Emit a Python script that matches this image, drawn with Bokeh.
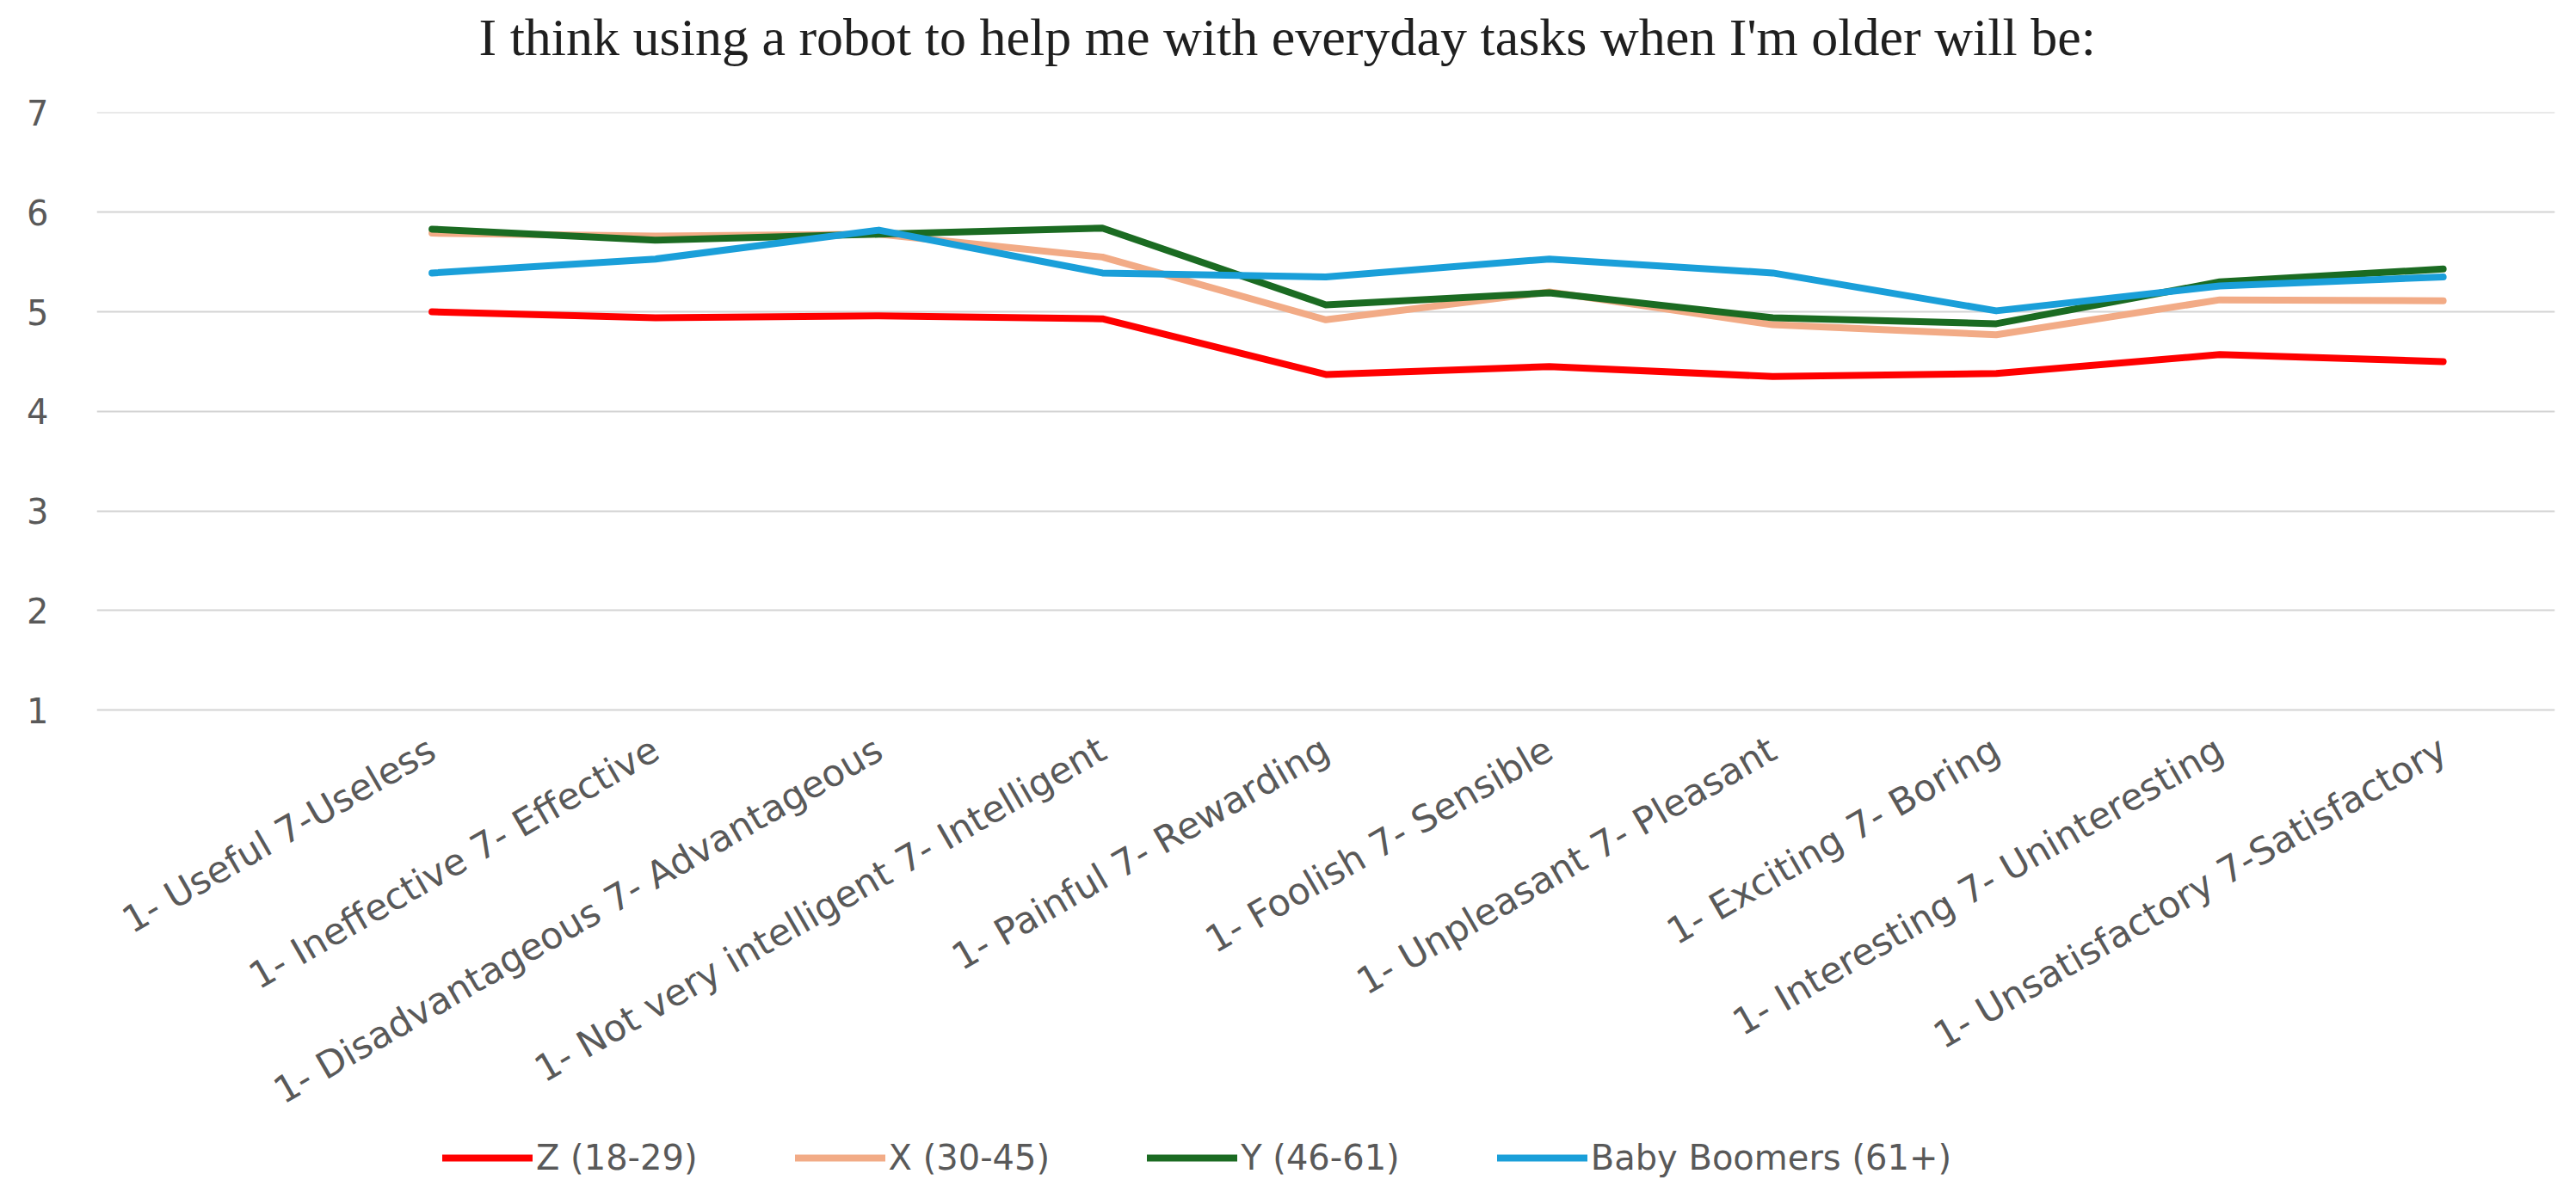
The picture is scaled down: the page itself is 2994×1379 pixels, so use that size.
import math
from bokeh.plotting import figure
from bokeh.models import FixedTicker, Range1d, Legend, LegendItem, Title
from bokeh.embed import file_html
from bokeh.resources import INLINE

categories = [
    "1- Useful 7-Useless",
    "1- Ineffective 7- Effective",
    "1- Disadvantageous 7- Advantageous",
    "1- Not very intelligent 7- Intelligent",
    "1- Painful 7- Rewarding",
    "1- Foolish 7- Sensible",
    "1- Unpleasant 7- Pleasant",
    "1- Exciting 7- Boring",
    "1- Interesting 7- Uninteresting",
    "1- Unsatisfactory 7-Satisfactory",
]
gen_z = [5.00, 4.94, 4.96, 4.93, 4.37, 4.45, 4.35, 4.38, 4.57, 4.50]
gen_x = [5.79, 5.76, 5.78, 5.55, 4.92, 5.20, 4.87, 4.77, 5.12, 5.11]
gen_y = [5.83, 5.72, 5.78, 5.84, 5.07, 5.19, 4.94, 4.88, 5.30, 5.43]
boomers = [5.39, 5.53, 5.82, 5.39, 5.35, 5.53, 5.39, 5.01, 5.26, 5.35]

series_names = ["Z (18-29)", "X (30-45)", "Y (46-61)", "Baby Boomers (61+)"]
series_values = [gen_z, gen_x, gen_y, boomers]
series_colors = ["#FF0000", "#F2AB86", "#1B6B22", "#1A9FD9"]
y_ticks = [1, 2, 3, 4, 5, 6, 7]
title_text = "I think using a robot to help me with everyday tasks when I'm older will be:"

xs = list(range(len(categories)))

W, H = 2990, 1375
FRAME_LEFT, FRAME_RIGHT = 112, 2969
FRAME_TOP, ONE_LINE = 130, 825
# frame spans from the 7-line down to the page bottom; the space under the
# 1-line holds the rotated category labels and the legend
px_per_unit = (ONE_LINE - FRAME_TOP) / (y_ticks[-1] - y_ticks[0])
y_bottom = y_ticks[0] - (H - ONE_LINE) / px_per_unit

p = figure(
    width=W, height=H,
    x_range=Range1d(-1.5, len(categories) - 0.5),
    y_range=Range1d(y_bottom, y_ticks[-1] + 0.004),
    output_backend="svg", toolbar_location=None,
    min_border_left=FRAME_LEFT, min_border_right=W - FRAME_RIGHT,
    min_border_top=FRAME_TOP, min_border_bottom=0,
)
# main title (outermost panel)
p.title.text = title_text
p.title.align = "left"
p.title.offset = 444
p.title.vertical_align = "top"
p.title.text_font = "Liberation Serif"
p.title.text_font_size = "62px"
p.title.text_font_style = "normal"
p.title.text_color = "#1f1f1f"
p.title.standoff = 4
# spacer panel between the title and the frame
p.add_layout(Title(text=" ", text_font_size="10px", standoff=37), "above")

p.outline_line_color = None
p.background_fill_color = "white"
p.border_fill_color = "white"

# y axis
p.yaxis.ticker = FixedTicker(ticks=y_ticks)
p.yaxis.axis_line_color = None
p.yaxis.major_tick_line_color = None
p.yaxis.minor_tick_line_color = None
p.yaxis.major_tick_out = 0
p.yaxis.major_label_standoff = 56
p.yaxis.major_label_text_font = "DejaVu Sans"
p.yaxis.major_label_text_font_size = "40px"
p.yaxis.major_label_text_color = "#595959"

# x axis, drawn on the 1-line
p.xaxis.fixed_location = y_ticks[0]
p.xaxis.ticker = FixedTicker(ticks=xs)
p.xaxis.major_label_overrides = {i: c for i, c in zip(xs, categories)}
p.xaxis.major_label_orientation = math.radians(30)
p.xaxis.axis_line_color = None
p.xaxis.major_tick_line_color = None
p.xaxis.minor_tick_line_color = None
p.xaxis.major_tick_out = 0
p.xaxis.major_label_standoff = 42
p.xaxis.major_label_text_font = "DejaVu Sans"
p.xaxis.major_label_text_font_size = "43px"
p.xaxis.major_label_text_color = "#595959"

p.xgrid.grid_line_color = None
p.ygrid.ticker = FixedTicker(ticks=y_ticks)
p.ygrid.grid_line_color = "#D3D3D3"
p.ygrid.grid_line_width = 2

items = []
for name, vals, col in zip(series_names, series_values, series_colors):
    r = p.line(xs, vals, line_color=col, line_width=8, line_join="round", line_cap="round")
    items.append(LegendItem(label=name, renderers=[r]))

legend = Legend(
    items=items, orientation="horizontal", location=(402, 6),
    glyph_width=105, glyph_height=20, label_standoff=4, spacing=113,
    label_text_font="DejaVu Sans", label_text_font_size="40px",
    label_text_color="#595959", padding=0, margin=0,
    border_line_color=None, background_fill_alpha=0,
)
p.add_layout(legend)

open("out.html", "w").write(file_html(p, INLINE))
